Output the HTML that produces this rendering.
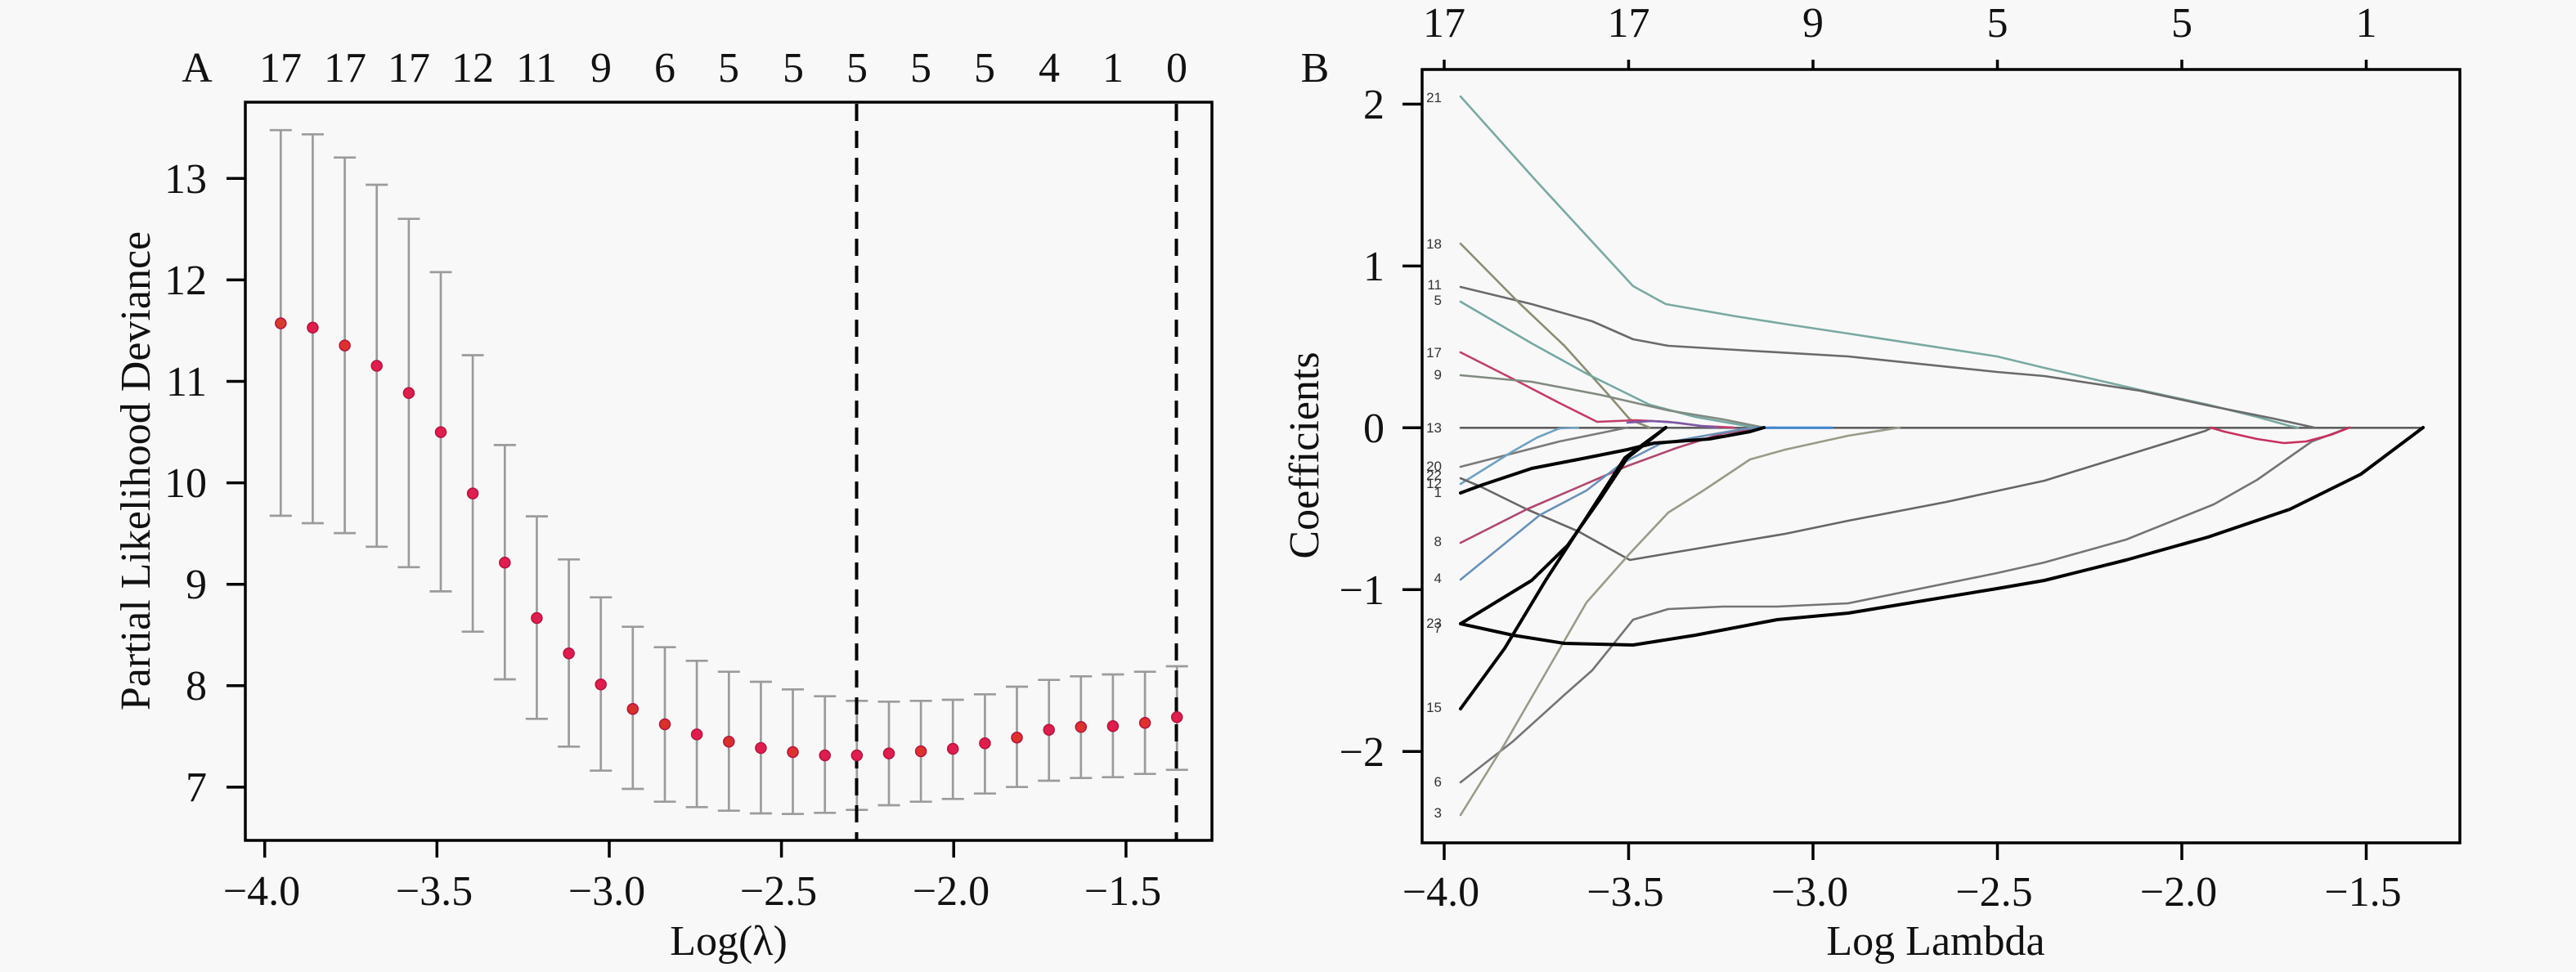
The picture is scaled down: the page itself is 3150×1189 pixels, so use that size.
<!DOCTYPE html>
<html><head><meta charset="utf-8"><style>
html,body{margin:0;padding:0;background:#f8f8f8;}
svg{display:block;}
text{font-family:"Liberation Serif",serif;fill:#111;}
.s{font-family:"Liberation Sans",sans-serif;font-size:17px;fill:#333;}
</style></head><body>
<svg width="3150" height="1189" viewBox="0 0 3150 1189" xmlns="http://www.w3.org/2000/svg">
<rect width="3150" height="1189" fill="#f8f8f8"/>

<!-- ================= PANEL A ================= -->
<g font-size="52">
<text x="241" y="100" text-anchor="middle">A</text>
<g text-anchor="middle">
<text x="343" y="100">17</text><text x="422" y="100">17</text><text x="500" y="100">17</text>
<text x="578" y="100">12</text><text x="656" y="100">11</text><text x="735" y="100">9</text>
<text x="813" y="100">6</text><text x="891" y="100">5</text><text x="970" y="100">5</text>
<text x="1048" y="100">5</text><text x="1126" y="100">5</text><text x="1204" y="100">5</text>
<text x="1283" y="100">4</text><text x="1361" y="100">1</text><text x="1439" y="100">0</text>
</g>
<g text-anchor="end">
<text x="253" y="236">13</text><text x="253" y="360">12</text><text x="253" y="484">11</text>
<text x="253" y="608">10</text><text x="253" y="732">9</text><text x="253" y="856">8</text>
<text x="253" y="980">7</text>
</g>
<g text-anchor="middle">
<text x="320" y="1107">−4.0</text><text x="531" y="1107">−3.5</text><text x="742" y="1107">−3.0</text>
<text x="952" y="1107">−2.5</text><text x="1163" y="1107">−2.0</text><text x="1373" y="1107">−1.5</text>
<text x="891" y="1168">Log(λ)</text>
</g>
<text transform="translate(183,576) rotate(-90)" text-anchor="middle">Partial Likelihood Deviance</text>
</g>
<g stroke="#000" stroke-width="3.5">
<line x1="277" y1="218.3" x2="300" y2="218.3"/><line x1="277" y1="342.4" x2="300" y2="342.4"/>
<line x1="277" y1="466.5" x2="300" y2="466.5"/><line x1="277" y1="590.6" x2="300" y2="590.6"/>
<line x1="277" y1="714.7" x2="300" y2="714.7"/><line x1="277" y1="838.8" x2="300" y2="838.8"/>
<line x1="277" y1="962.9" x2="300" y2="962.9"/>
<line x1="323.7" y1="1028" x2="323.7" y2="1049"/><line x1="534.3" y1="1028" x2="534.3" y2="1049"/>
<line x1="745" y1="1028" x2="745" y2="1049"/><line x1="955.6" y1="1028" x2="955.6" y2="1049"/>
<line x1="1166.2" y1="1028" x2="1166.2" y2="1049"/><line x1="1376.9" y1="1028" x2="1376.9" y2="1049"/>
</g>
<!-- error bars -->
<g stroke="#9b9b9b" stroke-width="2.7" fill="none">
<path d="M343.3 159.2V630.9M329.8 159.2h27M329.8 630.9h27"/>
<path d="M382.4 164.3V640M368.9 164.3h27M368.9 640h27"/>
<path d="M421.6 192.7V652.1M408.1 192.7h27M408.1 652.1h27"/>
<path d="M460.7 226V668.8M447.2 226h27M447.2 668.8h27"/>
<path d="M499.9 267.7V693.8M486.4 267.7h27M486.4 693.8h27"/>
<path d="M539 332.9V723.4M525.5 332.9h27M525.5 723.4h27"/>
<path d="M578.1 434.5V772.7M564.6 434.5h27M564.6 772.7h27"/>
<path d="M617.3 544.4V831M603.8 544.4h27M603.8 831h27"/>
<path d="M656.4 631.6V879.3M642.9 631.6h27M642.9 879.3h27"/>
<path d="M695.6 684.3V913.3M682.1 684.3h27M682.1 913.3h27"/>
<path d="M734.7 730.7V942.7M721.2 730.7h27M721.2 942.7h27"/>
<path d="M773.8 766.7V965M760.3 766.7h27M760.3 965h27"/>
<path d="M813 791.7V980.7M799.5 791.7h27M799.5 980.7h27"/>
<path d="M852.1 808.3V987.3M838.6 808.3h27M838.6 987.3h27"/>
<path d="M891.3 821.7V991.7M877.8 821.7h27M877.8 991.7h27"/>
<path d="M930.4 834V995M916.9 834h27M916.9 995h27"/>
<path d="M969.5 843.3V995.7M956 843.3h27M956 995.7h27"/>
<path d="M1008.7 851.7V994.3M995.2 851.7h27M995.2 994.3h27"/>
<path d="M1047.8 857.3V990.7M1034.3 857.3h27M1034.3 990.7h27"/>
<path d="M1087 858.3V985M1073.5 858.3h27M1073.5 985h27"/>
<path d="M1126.1 857.3V980.7M1112.6 857.3h27M1112.6 980.7h27"/>
<path d="M1165.2 856V977.3M1151.7 856h27M1151.7 977.3h27"/>
<path d="M1204.4 849.3V970.7M1190.9 849.3h27M1190.9 970.7h27"/>
<path d="M1243.5 840V962.7M1230 840h27M1230 962.7h27"/>
<path d="M1282.7 831.7V955M1269.2 831.7h27M1269.2 955h27"/>
<path d="M1321.8 827.3V951.7M1308.3 827.3h27M1308.3 951.7h27"/>
<path d="M1360.9 825V950.7M1347.4 825h27M1347.4 950.7h27"/>
<path d="M1400.1 821.7V946.7M1386.6 821.7h27M1386.6 946.7h27"/>
<path d="M1439.2 815V941.7M1425.7 815h27M1425.7 941.7h27"/>
</g>
<!-- dashed lines -->
<g stroke="#000" stroke-width="4" stroke-dasharray="21 12">
<line x1="1047.5" y1="127" x2="1047.5" y2="1028"/>
<line x1="1438.5" y1="127" x2="1438.5" y2="1028"/>
</g>
<!-- points -->
<g fill="#e01d4c" stroke="#b01540" stroke-width="1.5">
<circle cx="343.3" cy="395.5" r="6.5" fill="#d83a2e"/><circle cx="382.4" cy="400.8" r="6.5"/>
<circle cx="421.6" cy="422.6" r="6.5" fill="#e0302e"/><circle cx="460.7" cy="447.5" r="6.5"/>
<circle cx="499.9" cy="480.8" r="6.5"/><circle cx="539" cy="528.6" r="6.5"/>
<circle cx="578.1" cy="603.6" r="6.5"/><circle cx="617.3" cy="688.3" r="6.5"/>
<circle cx="656.4" cy="756" r="6.5"/><circle cx="695.6" cy="799.3" r="6.5"/>
<circle cx="734.7" cy="837.3" r="6.5"/><circle cx="773.8" cy="867.3" r="6.5" fill="#d8302a"/>
<circle cx="813" cy="886" r="6.5" fill="#d8302a"/><circle cx="852.1" cy="898.4" r="6.5"/>
<circle cx="891.3" cy="907.3" r="6.5" fill="#d8302a"/><circle cx="930.4" cy="915" r="6.5"/>
<circle cx="969.5" cy="920" r="6.5" fill="#e0302e"/><circle cx="1008.7" cy="924" r="6.5"/>
<circle cx="1047.8" cy="924" r="6.5"/><circle cx="1087" cy="921.6" r="6.5"/>
<circle cx="1126.1" cy="919" r="6.5" fill="#e0302e"/><circle cx="1165.2" cy="916" r="6.5"/>
<circle cx="1204.4" cy="909.3" r="6.5"/><circle cx="1243.5" cy="902.3" r="6.5" fill="#e0302e"/>
<circle cx="1282.7" cy="892.7" r="6.5"/><circle cx="1321.8" cy="889.3" r="6.5" fill="#e0302e"/>
<circle cx="1360.9" cy="888.3" r="6.5"/><circle cx="1400.1" cy="884.3" r="6.5" fill="#e0302e"/>
<circle cx="1439.2" cy="877.3" r="6.5"/>
</g>
<rect x="300" y="125" width="1182" height="903" fill="none" stroke="#000" stroke-width="3.5"/>

<!-- ================= PANEL B ================= -->
<g font-size="52">
<text x="1608" y="100" text-anchor="middle">B</text>
<g text-anchor="middle">
<text x="1766" y="45">17</text><text x="1991.5" y="45">17</text><text x="2217" y="45">9</text>
<text x="2442.5" y="45">5</text><text x="2668" y="45">5</text><text x="2893.5" y="45">1</text>
<text x="1762" y="1108">−4.0</text><text x="1987.5" y="1108">−3.5</text><text x="2213" y="1108">−3.0</text>
<text x="2438.5" y="1108">−2.5</text><text x="2664" y="1108">−2.0</text><text x="2889.5" y="1108">−1.5</text>
<text x="2367" y="1168">Log Lambda</text>
</g>
<g text-anchor="end">
<text x="1693" y="145">2</text><text x="1693" y="343">1</text><text x="1693" y="541">0</text>
<text x="1693" y="739">−1</text><text x="1693" y="937">−2</text>
</g>
<text transform="translate(1612,557) rotate(-90)" text-anchor="middle">Coefficients</text>
</g>
<g stroke="#000" stroke-width="3.5">
<line x1="1715" y1="127.4" x2="1739" y2="127.4"/><line x1="1715" y1="325.4" x2="1739" y2="325.4"/>
<line x1="1715" y1="523.3" x2="1739" y2="523.3"/><line x1="1715" y1="721.3" x2="1739" y2="721.3"/>
<line x1="1715" y1="919.3" x2="1739" y2="919.3"/>
<line x1="1766" y1="1031" x2="1766" y2="1052"/><line x1="1991.5" y1="1031" x2="1991.5" y2="1052"/>
<line x1="2217" y1="1031" x2="2217" y2="1052"/><line x1="2442.5" y1="1031" x2="2442.5" y2="1052"/>
<line x1="2668" y1="1031" x2="2668" y2="1052"/><line x1="2893.5" y1="1031" x2="2893.5" y2="1052"/>
<line x1="1766" y1="85" x2="1766" y2="73"/><line x1="1991.5" y1="85" x2="1991.5" y2="73"/>
<line x1="2217" y1="85" x2="2217" y2="73"/><line x1="2442.5" y1="85" x2="2442.5" y2="73"/>
<line x1="2668" y1="85" x2="2668" y2="73"/><line x1="2893.5" y1="85" x2="2893.5" y2="73"/>
</g>
<!-- coefficient paths -->
<g fill="none" stroke-width="2.6" stroke-linejoin="round" stroke-linecap="round">
<polyline stroke="#5f5f5f" points="1786,523.3 2962,523.3"/>
<polyline stroke="#7aa9a3" points="1786,118 1880,223 1997,350 2037,372 2123,387 2187,397 2260,408 2442,436 2500,450 2617,477 2700,495 2760,510 2800,521 2810,523"/>
<polyline stroke="#6a6a6a" points="1786,351 1873,372 1947,393 1997,415 2040,423 2123,428 2260,436 2442,455 2500,460 2617,478 2700,496 2780,512 2830,523"/>
<polyline stroke="#8c8c72" points="1786,298 1857,370 1913,423 1967,483 1993,513 2017,523"/>
<polyline stroke="#74a8a2" points="1786,369 1873,420 1940,457 2017,495 2073,510 2147,523"/>
<polyline stroke="#c43c6a" points="1786,431 1857,467 1907,493 1953,516 2000,514 2040,516 2080,521 2120,523"/>
<polyline stroke="#808a80" points="1786,459 1873,467 1957,483 2040,502 2107,513 2157,523"/>
<polyline stroke="#7a7a7a" points="1786,571 1907,540 1990,523"/>
<polyline stroke="#6fa2c0" points="1786,592 1850,552 1880,535 1907,524 1930,523"/>
<polyline stroke="#666" points="1786,585 1810,595 1867,623 1930,650 1993,685 2040,677 2123,663 2183,653 2260,637 2380,614 2500,588 2600,557 2697,527 2705,523"/>
<polyline stroke="#b04872" points="1786,664 1867,623 1990,570 2050,548 2107,530 2147,524 2170,523"/>
<polyline stroke="#6a90b8" points="1786,709 1883,630 1940,600 1983,567 2030,543 2073,535 2130,525 2150,523"/>
<polyline stroke="#747474" points="1786,957 1850,907 1913,850 1947,820 1997,758 2040,745 2107,742 2173,742 2260,738 2442,701 2500,688 2600,660 2707,617 2760,587 2827,540 2873,523"/>
<polyline stroke="#9a9a88" points="1786,997 1840,910 1940,737 1993,677 2040,627 2083,600 2140,562 2183,550 2260,533 2323,523"/>
<polyline stroke="#c8305e" points="2703,523 2720,528 2760,537 2793,542 2820,540 2850,532 2873,523"/>
<polyline stroke="#3f86d0" stroke-width="3" points="2150,523.3 2240,523.3"/>
<polyline stroke="#7a5aa8" points="1990,517 2020,515 2050,517 2080,521 2100,523"/>
</g>
<g fill="none" stroke="#000" stroke-width="4" stroke-linejoin="round" stroke-linecap="round">
<polyline points="1786,603 1813,593 1873,573 1940,560 1990,550 2023,542 2090,537 2140,528 2157,523"/>
<polyline points="1786,763 1873,710 1917,667 1957,610 1990,560 2037,523"/>
<polyline points="1786,867 1840,793 1890,710 1940,633 1987,560 2037,523"/>
<polyline points="1786,763 1850,777 1913,787 1997,789 2073,777 2173,758 2260,750 2442,720 2500,710 2600,685 2700,657 2800,623 2887,580 2963,523"/>
</g>
<!-- variable labels -->
<g class="s" text-anchor="end">
<text class="s" x="1763" y="125">21</text>
<text class="s" x="1763" y="304">18</text>
<text class="s" x="1763" y="354">11</text>
<text class="s" x="1763" y="373">5</text>
<text class="s" x="1763" y="437">17</text>
<text class="s" x="1763" y="464">9</text>
<text class="s" x="1763" y="529">13</text>
<text class="s" x="1763" y="576">20</text>
<text class="s" x="1763" y="587">22</text>
<text class="s" x="1763" y="597">12</text>
<text class="s" x="1763" y="608">1</text>
<text class="s" x="1763" y="668">8</text>
<text class="s" x="1763" y="713">4</text>
<text class="s" x="1763" y="774">7</text>
<text class="s" x="1763" y="768">23</text>
<text class="s" x="1763" y="871">15</text>
<text class="s" x="1763" y="962">6</text>
<text class="s" x="1763" y="1000">3</text>
</g>
<rect x="1739" y="85" width="1269" height="946" fill="none" stroke="#000" stroke-width="3.5"/>
</svg>
</body></html>
